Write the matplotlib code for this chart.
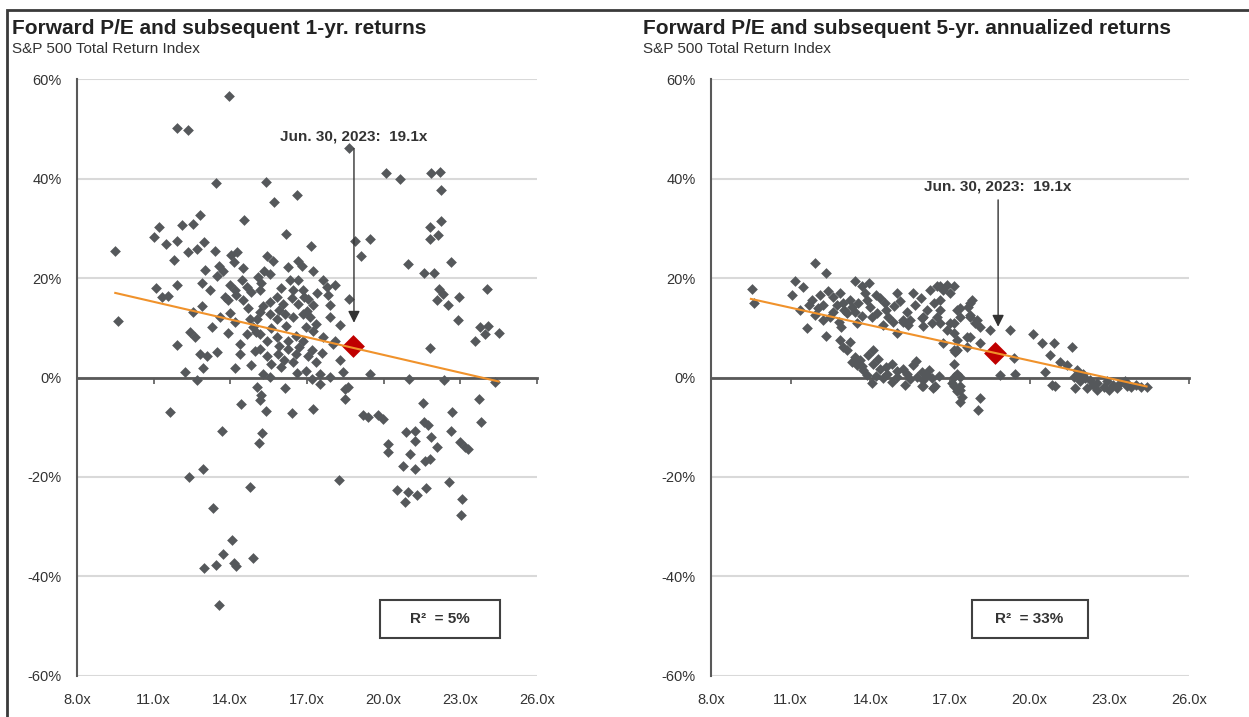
import matplotlib.pyplot as plt
from matplotlib.patches import Rectangle

plt.rcParams['font.family'] = ['Liberation Sans', 'DejaVu Sans']

# forward P/E (x) and subsequent 1-yr return in % (y)
pts_1yr = [
    (13.95, 56.5), (11.92, 50.1), (12.33, 49.8), (18.63, 46.1),
    (20.09, 41.1), (20.64, 39.9), (21.85, 41.1), (22.2, 41.3), (22.26, 37.6),
    (9.49, 25.4), (9.62, 11.4), (11.21, 30.2), (11.01, 28.2), (11.09, 18.0),
    (11.34, 16.1), (11.55, 16.3), (11.9, 18.5), (11.9, 6.6),
    (13.44, 39.1), (15.39, 39.3), (15.71, 35.2), (16.63, 36.6), (12.81, 32.6),
    (12.55, 30.8), (12.11, 30.6), (14.53, 31.6), (16.17, 28.9), (11.48, 26.9),
    (11.92, 27.4), (12.99, 27.3), (12.71, 25.9), (12.35, 25.2), (13.4, 25.4),
    (17.14, 26.5), (11.81, 23.7), (14.02, 24.7), (14.28, 25.2), (14.14, 23.2),
    (13.57, 22.5), (13.7, 21.5), (13.03, 21.6), (13.49, 20.5), (14.5, 22.0),
    (15.42, 24.5), (15.68, 23.5), (15.31, 21.5), (15.55, 20.8), (16.27, 22.2),
    (16.66, 23.5), (16.79, 22.5), (17.22, 21.4), (15.07, 20.2), (14.44, 19.5),
    (14.66, 18.2), (14.18, 17.5), (13.79, 16.1), (13.92, 15.5), (14.24, 16.5),
    (14.51, 15.5), (14.83, 17.2), (15.16, 17.5), (15.55, 15.1), (15.81, 16.1),
    (16.07, 14.8), (16.33, 19.5), (16.66, 19.5), (16.46, 17.5), (16.85, 17.5),
    (17.05, 15.8), (17.25, 14.5), (17.64, 19.5), (17.77, 18.2), (18.1, 18.5),
    (17.84, 16.5), (17.9, 14.5), (18.64, 15.8), (18.87, 27.5), (16.66, 14.8),
    (16.85, 12.8), (17.11, 12.1), (17.37, 10.8), (17.25, 9.4), (16.98, 10.1),
    (16.46, 12.1), (16.14, 12.8), (15.81, 11.8), (15.55, 12.8), (15.16, 13.1),
    (15.03, 11.8), (14.77, 11.8), (14.9, 10.1), (14.64, 8.8), (15.16, 8.8),
    (15.42, 7.4), (15.81, 8.1), (16.27, 7.4), (16.59, 8.4), (16.85, 7.4),
    (17.64, 8.1), (18.03, 6.8), (18.09, 7.4), (12.55, 13.1), (12.88, 14.3),
    (12.42, 9.1), (12.61, 8.1), (12.81, 4.8), (13.07, 4.4), (13.49, 5.1),
    (12.94, 1.9), (12.22, 1.1), (12.68, -0.6), (14.38, 6.8), (14.38, 4.8),
    (14.96, 5.4), (15.16, 5.8), (15.42, 4.4), (15.87, 4.8), (16.27, 5.8),
    (16.59, 4.8), (16.46, 3.1), (17.05, 4.4), (17.37, 3.1), (16.98, 1.4),
    (17.5, 0.7), (17.9, 0.1), (16.0, 2.1), (15.29, 0.7), (15.55, 0.1),
    (15.03, -1.9), (14.7, 14.0), (15.3, 14.3), (15.9, 13.6), (16.4, 15.9),
    (16.9, 16.2), (17.4, 17.0), (17.0, 13.4), (16.2, 10.4), (15.6, 10.0),
    (15.0, 9.2), (15.9, 6.4), (16.7, 6.2), (17.2, 5.6), (17.6, 4.9),
    (16.1, 3.6), (15.6, 2.8), (14.8, 2.6), (14.2, 1.9), (16.6, 0.9),
    (17.2, -0.4), (18.3, 3.5), (18.4, 1.2), (14.0, 13.0), (13.6, 12.2),
    (13.3, 10.2), (13.9, 9.0), (14.2, 11.2), (18.3, 10.5), (17.9, 12.2),
    (16.0, 17.9), (15.2, 19.0), (14.0, 18.6), (13.2, 17.6), (12.9, 18.9),
    (19.46, 27.9), (19.13, 24.5), (21.8, 30.2), (22.26, 31.4), (21.8, 27.9),
    (22.13, 28.7), (20.97, 22.8), (21.57, 21.0), (21.96, 21.0), (22.63, 23.3),
    (22.17, 17.8), (22.33, 16.8), (22.07, 15.5), (22.52, 14.5), (22.95, 16.1),
    (24.06, 17.8), (22.92, 11.6), (23.77, 10.1), (24.09, 10.4), (23.96, 8.8),
    (24.51, 9.0), (23.56, 7.4), (21.81, 6.0), (19.46, 0.7), (21.0, -0.3),
    (22.35, -0.6), (24.35, -0.9), (18.6, -1.9),
    (18.48, -2.3), (18.48, -4.3), (17.22, -6.4), (21.55, -5.2), (22.68, -7.0),
    (23.74, -4.3), (23.83, -9.0), (19.2, -7.6), (19.4, -8.0), (19.79, -7.6),
    (19.98, -8.3), (21.57, -9.0), (21.74, -9.6), (20.87, -11.0), (21.22, -10.7),
    (21.22, -12.7), (21.87, -12.0), (22.07, -14.0), (22.63, -10.7), (22.98, -13.0),
    (23.18, -14.0), (23.31, -14.3), (20.18, -13.3), (20.18, -15.0), (21.02, -15.3),
    (21.61, -16.7), (21.81, -16.3), (20.76, -17.7), (21.22, -18.4), (18.26, -20.6),
    (22.56, -21.0), (20.51, -22.7), (20.96, -23.0), (21.29, -23.7), (20.84, -25.1),
    (21.67, -22.2), (23.07, -24.5), (23.02, -27.7),
    (11.66, -7.0), (13.68, -10.7), (14.41, -5.3), (15.22, -3.6), (15.16, -4.6),
    (15.38, -6.8), (15.25, -11.1), (15.13, -13.2), (16.16, -2.1), (16.42, -7.2),
    (17.53, -1.3), (12.94, -18.4), (12.38, -20.0), (14.79, -22.0), (13.31, -26.3),
    (14.08, -32.6), (13.7, -35.4), (14.87, -36.3), (13.46, -37.7), (12.98, -38.3),
    (14.15, -37.3), (14.24, -37.8), (13.55, -45.7),
]

# forward P/E (x) and subsequent 5-yr annualized return in % (y)
pts_5yr = [
    (11.92, 23.1), (12.32, 21.1), (9.53, 17.8), (9.62, 15.0), (11.16, 19.4),
    (11.48, 18.1), (11.04, 16.6), (11.35, 13.6), (11.6, 10.0), (12.33, 8.3),
    (11.79, 15.6), (12.11, 16.6), (12.42, 17.3), (12.61, 16.2), (12.86, 16.9),
    (12.73, 14.6), (12.98, 14.9), (12.04, 13.9), (12.23, 14.6), (12.48, 12.2),
    (11.92, 12.6), (13.24, 15.6), (13.11, 12.9), (12.8, 11.2), (13.42, 19.3),
    (13.67, 18.3), (13.93, 18.9), (13.8, 16.9), (13.55, 14.9), (13.86, 15.6),
    (13.42, 13.2), (14.21, 16.6), (14.37, 15.9), (14.55, 14.9), (14.24, 12.9),
    (14.05, 12.2), (14.99, 16.9), (14.68, 12.2), (14.99, 8.9), (14.87, 11.2),
    (15.37, 13.2), (15.62, 16.9), (15.68, 14.6), (15.93, 11.9), (15.5, 11.6),
    (15.24, 11.2), (16.12, 13.6), (16.25, 17.6), (16.5, 18.3), (16.5, 12.2),
    (16.31, 10.9), (12.86, 7.5), (12.98, 6.2), (13.24, 7.2), (13.11, 5.5),
    (13.42, 4.2), (13.61, 3.5), (13.49, 2.5), (14.11, 5.5), (13.74, 1.5),
    (13.86, 0.5), (14.05, -1.2), (14.11, 2.8), (14.37, 1.8), (14.62, 0.8),
    (14.8, 2.8), (14.99, 0.2), (15.24, 1.8), (15.37, 0.8), (15.62, 2.5),
    (15.75, 0.2), (15.93, 1.2), (16.12, 0.5), (16.31, -0.2), (15.93, -1.8),
    (16.44, -1.8), (15.31, -1.5), (14.49, -0.2),
    (13.0, 13.5), (13.3, 14.2), (12.6, 13.2), (13.7, 12.3), (14.0, 14.2),
    (14.6, 13.5), (14.9, 14.3), (15.1, 15.4), (15.9, 15.9), (15.4, 10.6),
    (16.0, 10.3), (16.4, 15.0), (12.2, 11.6), (11.7, 14.6), (12.9, 10.2),
    (13.5, 11.0), (13.3, 3.2), (13.7, 2.3), (14.2, 0.3), (14.6, 2.1),
    (15.0, 1.3), (15.5, -0.4), (16.0, -0.6), (14.3, 3.8), (13.9, 4.5),
    (15.7, 3.4), (16.2, 1.5), (16.6, 0.3), (14.8, -0.9), (16.0, 12.2),
    (15.24, 11.6), (14.49, 10.6), (16.0, -1.8), (16.37, -2.2),
    (16.63, 18.3), (16.88, 18.6), (17.13, 18.3), (16.63, 15.6), (16.63, 10.9),
    (16.88, 9.5), (17.13, 8.9), (16.75, 6.9), (17.25, 5.5), (17.13, 2.8),
    (17.13, 0.2), (17.13, -1.8), (17.25, -2.8),
    (16.75, 17.6), (17.0, 16.9), (17.82, 15.6), (17.69, 14.2), (17.25, 13.6),
    (17.75, 12.2), (17.94, 10.9), (17.13, 10.9), (18.51, 9.5), (19.26, 9.5),
    (17.63, 8.2), (18.13, 6.9), (17.19, 5.2), (20.12, 8.7), (20.45, 6.9),
    (20.9, 6.9), (20.77, 4.5), (21.59, 6.1), (17.38, 0.2), (18.88, 0.5),
    (19.45, 0.8), (20.58, 1.2), (20.83, -1.5), (17.38, -2.5), (17.44, -3.9),
    (18.13, -4.2), (17.38, -4.9), (18.07, -6.5),
    (16.63, 13.6), (17.0, 10.9), (17.13, 5.5), (17.26, 7.5), (17.38, 13.9),
    (17.38, 12.2), (17.63, 6.2), (17.76, 14.9), (17.76, 12.6), (17.76, 8.2),
    (18.0, 11.6), (18.13, 10.2), (19.39, 3.9), (21.15, 3.2), (21.4, 2.5),
    (21.77, 1.5), (22.02, 0.8), (17.26, 0.8), (21.65, 0.2), (21.9, -0.8),
    (22.28, -0.5), (22.53, -1.2), (22.9, -0.8), (23.15, -1.5), (23.4, -1.2),
    (23.65, -1.8), (24.02, -1.5), (24.4, -2.0), (23.0, -2.5), (22.53, -2.5),
    (22.15, -2.2), (21.71, -2.2), (20.95, -1.8), (17.38, -1.8), (17.07, -1.2),
    (21.9, 0.5), (22.4, -1.6), (22.8, -2.0), (23.3, -2.2), (23.8, -2.0),
    (24.2, -1.9), (22.1, -0.2), (23.6, -0.8),
]

# regression line end points (P/E, %)
trend_pe_1yr = [9.5, 24.5]
trend_ret_1yr = [17.0, -0.8]
trend_pe_5yr = [9.5, 24.4]
trend_ret_5yr = [15.8, -1.8]

# Jun. 30, 2023 marker
now_pe = [18.8, 18.7]
now_ret = [6.3, 5.0]
arrow_pe = [18.84, 18.81]
arrow_top = [46.0, 35.7]
arrow_tip = [11.0, 10.2]
label_ret = [48.4, 38.3]

titles = ['Forward P/E and subsequent 1-yr. returns',
          'Forward P/E and subsequent 5-yr. annualized returns']
subtitle = 'S&P 500 Total Return Index'
r2_labels = ['R\u00b2  = 5%', 'R\u00b2  = 33%']
pe_ticks = [8, 11, 14, 17, 20, 23, 26]
ret_ticks = [-60, -40, -20, 0, 20, 40, 60]

GRAY = '#55585b'
AXIS = '#595959'
TXT = '#333333'

fig = plt.figure(figsize=(12.49, 7.17), dpi=100)
axes = [fig.add_axes([0.0616, 0.0572, 0.3683, 0.8326]),
        fig.add_axes([0.5693, 0.0572, 0.3827, 0.8326])]

data = [pts_1yr, pts_5yr]
trends = [(trend_pe_1yr, trend_ret_1yr), (trend_pe_5yr, trend_ret_5yr)]
boxes = [(0.659, 0.261, 0.789), (0.546, 0.243, 0.666)]
title_x = [12 / 1249, 643 / 1249]

for i, ax in enumerate(axes):
    pe, ret = zip(*data[i])
    ax.set_xlim(8, 26)
    ax.set_ylim(-60, 60)
    ax.set_axisbelow(True)
    ax.grid(axis='y', color='#d9d9d9', lw=1.5)
    ax.set_yticks(ret_ticks, labels=[f'{v}%' for v in ret_ticks])
    ax.tick_params(axis='y', length=0, pad=11, labelsize=10.5, labelcolor=TXT)
    ax.set_xticks(pe_ticks)
    ax.tick_params(axis='x', direction='out', length=4, width=1.2,
                   color=AXIS, labelbottom=False)
    for s in ['top', 'right']:
        ax.spines[s].set_visible(False)
    ax.spines['bottom'].set_position(('data', 0))
    ax.spines['bottom'].set_color(AXIS)
    ax.spines['bottom'].set_linewidth(2)
    ax.spines['left'].set_color(AXIS)
    ax.spines['left'].set_linewidth(1.5)
    for v in pe_ticks:
        ax.text(v, -0.028, f'{v:.1f}x', transform=ax.get_xaxis_transform(),
                ha='center', va='top', fontsize=10.5, color=TXT)

    ax.scatter(pe, ret, marker='D', s=30, color=GRAY, lw=0, zorder=3)
    ax.scatter([now_pe[i]], [now_ret[i]], marker='D', s=135, color='#c00000',
               lw=0, zorder=4)
    ax.plot(trends[i][0], trends[i][1], color='#f0922b', lw=1.5, zorder=5)

    ax.annotate('', xy=(arrow_pe[i], arrow_tip[i]), xytext=(arrow_pe[i], arrow_top[i]),
                arrowprops=dict(arrowstyle='-|>,head_length=0.7,head_width=0.35',
                                color='#333333', lw=1, shrinkA=0, shrinkB=0), zorder=6)
    ax.text(arrow_pe[i], label_ret[i], 'Jun. 30, 2023:  19.1x', ha='center',
            va='center', fontsize=11, fontweight='bold', color=TXT)

    x0, w, xc = boxes[i]
    ax.add_patch(Rectangle((x0, 0.0637), w, 0.0637, transform=ax.transAxes,
                           fill=False, ec='#404040', lw=1.5, zorder=6))
    ax.text(xc, 0.0955, r2_labels[i], transform=ax.transAxes, ha='center',
            va='center', fontsize=11, fontweight='bold', color=TXT)

    fig.text(title_x[i], 1 - 28 / 717, titles[i], ha='left', va='center',
             fontsize=15, fontweight='bold', color='#222222')
    fig.text(title_x[i], 1 - 49 / 717, subtitle, ha='left', va='center',
             fontsize=11, color='#333333')

fig.add_artist(Rectangle((7 / 1249, -0.05), 1.2, 1.05 - 10 / 717,
                         transform=fig.transFigure, fill=False, ec='#3a3a3a', lw=2))

fig.savefig('out.png', dpi=100)
